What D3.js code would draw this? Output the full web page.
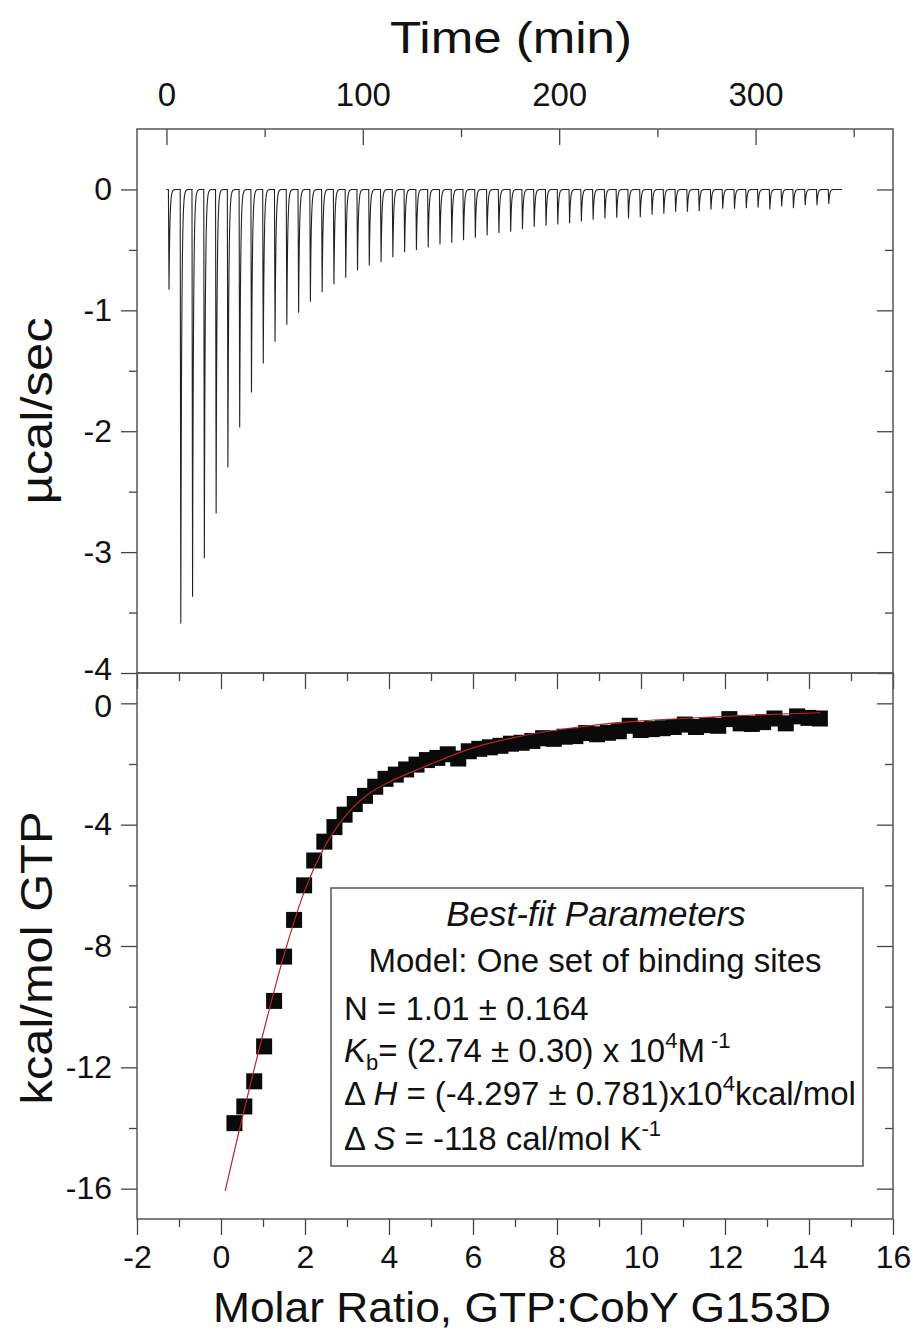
<!DOCTYPE html>
<html lang="en">
<head>
<meta charset="utf-8">
<title>ITC - GTP:CobY G153D</title>
<script src="https://d3js.org/d3.v7.min.js"></script>
<style>
  body { margin: 0; background: #fff; }
  svg text { font-family: "Liberation Sans", Arial, sans-serif; fill: #111; }
</style>
</head>
<body>
<script>
// raw thermogram: injection times (min) and peak minima (ucal/sec)
var injTimes = [1, 7, 13, 19, 25, 31, 37, 43, 49, 55, 61, 67, 73, 79, 85, 91, 97, 103, 109, 115,
  121, 127, 133, 139, 145, 151, 157, 163, 169, 175, 181, 187, 193, 199, 205, 211, 217, 223, 229,
  235, 241, 247, 253, 259, 265, 271, 277, 283, 289, 295, 301, 307, 313, 319, 325, 331, 337];
var peakDepths = [-0.83, -3.59, -3.37, -3.05, -2.68, -2.30, -1.97, -1.68, -1.44, -1.26, -1.12,
  -1.02, -0.93, -0.85, -0.785, -0.73, -0.67, -0.63, -0.60, -0.56, -0.52, -0.50, -0.48, -0.455,
  -0.44, -0.42, -0.40, -0.38, -0.36, -0.35, -0.33, -0.31, -0.30, -0.29, -0.28, -0.265, -0.25,
  -0.24, -0.235, -0.24, -0.23, -0.21, -0.20, -0.185, -0.185, -0.18, -0.165, -0.16, -0.16,
  -0.155, -0.15, -0.165, -0.14, -0.155, -0.13, -0.13, -0.12];
var traceEnd = 344;

// integrated heats: molar ratio and kcal/mol
var molRatio = [0.32, 0.555, 0.791, 1.027, 1.264, 1.502, 1.740, 1.979, 2.219, 2.460, 2.701,
  2.943, 3.185, 3.428, 3.672, 3.917, 4.162, 4.408, 4.655, 4.902, 5.150, 5.399, 5.649, 5.899,
  6.149, 6.401, 6.653, 6.905, 7.159, 7.413, 7.668, 7.923, 8.180, 8.437, 8.694, 8.953, 9.212,
  9.471, 9.732, 9.993, 10.255, 10.517, 10.780, 11.044, 11.308, 11.573, 11.839, 12.105, 12.372,
  12.640, 12.908, 13.177, 13.447, 13.717, 13.987, 14.259];
var heats = [-13.84, -13.29, -12.46, -11.31, -9.81, -8.35, -7.14, -6.0, -5.18, -4.56,
  -4.08, -3.67, -3.32, -3.05, -2.75, -2.49, -2.35, -2.18, -2.02, -1.87,
  -1.80, -1.68, -1.82, -1.58, -1.50, -1.45, -1.40, -1.33, -1.30, -1.24,
  -1.15, -1.17, -1.10, -1.08, -0.98, -1.02, -0.97, -0.92, -0.74, -0.88,
  -0.85, -0.82, -0.78, -0.70, -0.78, -0.72, -0.74, -0.52, -0.66, -0.68,
  -0.62, -0.50, -0.66, -0.43, -0.48, -0.50];

// fitted curve
var fitX = [0.1, 0.5, 1.0, 1.5, 2.0, 2.5, 3.0, 3.5, 4.0, 5.0, 6.0, 7.0, 8.0, 9.0, 10.0,
  11.0, 12.0, 13.0, 14.27];
var fitY = [-16.07, -13.7, -10.9, -8.3, -6.15, -4.65, -3.65, -3.0, -2.6, -2.0, -1.47, -1.12,
  -0.88, -0.70, -0.58, -0.50, -0.43, -0.37, -0.31];

// tick values
var timeMajor = [0, 100, 200, 300], timeMinor = [50, 150, 250, 350];
var rateMajor = [0, -1, -2, -3, -4], rateMinor = [-0.5, -1.5, -2.5, -3.5];
var heatMajor = [0, -4, -8, -12, -16], heatMinor = [-2, -6, -10, -14];
var molMajor = [-2, 0, 2, 4, 6, 8, 10, 12, 14, 16], molMinor = [-1, 1, 3, 5, 7, 9, 11, 13, 15];

var width = 913, height = 1334;
var L = 137, R = 893, T = 129, M = 673, B = 1219;

var svg = d3.select("body").append("svg")
  .attr("width", width)
  .attr("height", height);

svg.append("rect").attr("width", width).attr("height", height).attr("fill", "#fff");

var xTime = d3.scaleLinear().domain([-15, 370]).range([L, R]);
var yRate = d3.scaleLinear().domain([-4, 0.5]).range([M, T]);
var xMol = d3.scaleLinear().domain([-2, 16]).range([L, R]);
var yHeat = d3.scaleLinear().domain([-17, 1]).range([B, M]);

function drawAxis(axis, tx, ty, labels) {
  var g = svg.append("g")
    .attr("transform", "translate(" + tx + "," + ty + ")")
    .call(axis);
  g.select(".domain").remove();
  g.selectAll("line").attr("stroke", "#444").attr("stroke-width", 1.3);
  g.attr("font-family", null).attr("font-size", null);
  g.selectAll("text").attr("font-size", 32).attr("fill", "#111");
  if (!labels) g.selectAll("text").remove();
  return g;
}
var fmt = function(d) { return String(d); };

// top panel axes
drawAxis(d3.axisBottom(xTime).tickValues(timeMajor).tickSize(16), 0, T, false);
drawAxis(d3.axisBottom(xTime).tickValues(timeMinor).tickSize(8), 0, T, false);
drawAxis(d3.axisTop(xTime).tickValues(timeMajor).tickSize(0).tickPadding(23).tickFormat(fmt), 0, T, true)
  .selectAll("text").attr("font-size", 33);
var rateAxis = drawAxis(d3.axisLeft(yRate).tickValues(rateMajor).tickSize(16).tickPadding(9).tickFormat(fmt), L, 0, true);
drawAxis(d3.axisLeft(yRate).tickValues(rateMinor).tickSize(8), L, 0, false);
drawAxis(d3.axisLeft(yRate).tickValues(rateMajor).tickSize(16), R, 0, false);
drawAxis(d3.axisLeft(yRate).tickValues(rateMinor).tickSize(8), R, 0, false);

// bottom panel axes
drawAxis(d3.axisBottom(xMol).tickValues(molMajor).tickSize(16), 0, M, false);
drawAxis(d3.axisBottom(xMol).tickValues(molMinor).tickSize(8), 0, M, false);
drawAxis(d3.axisBottom(xMol).tickValues(molMajor).tickSize(16).tickPadding(10).tickFormat(fmt), 0, B, true);
drawAxis(d3.axisBottom(xMol).tickValues(molMinor).tickSize(8), 0, B, false);
var heatAxis = drawAxis(d3.axisLeft(yHeat).tickValues(heatMajor).tickSize(16).tickPadding(9).tickFormat(fmt), L, 0, true);
drawAxis(d3.axisLeft(yHeat).tickValues(heatMinor).tickSize(8), L, 0, false);
drawAxis(d3.axisLeft(yHeat).tickValues(heatMajor).tickSize(16), R, 0, false);
drawAxis(d3.axisLeft(yHeat).tickValues(heatMinor).tickSize(8), R, 0, false);

// the "-4" and "0" labels meet at the panel join: ease them apart a little
rateAxis.selectAll("text").filter(function(d) { return d === -4; }).attr("dy", "0.2em");
heatAxis.selectAll("text").filter(function(d) { return d === 0; }).attr("dy", "0.42em");

// thermogram trace: each injection is a sharp drop to its minimum and a fast return
var trace = [];
for (var k = 0; k <= traceEnd * 20; k++) {
  var t = k / 20, v = 0;
  injTimes.forEach(function(t0, i) {
    var dt = t - t0;
    if (dt >= 0 && dt < 5) {
      v += peakDepths[i] * (dt <= 0.3 ? dt / 0.3 : Math.exp(-(dt - 0.3) / 0.45));
    }
  });
  trace.push([t, v]);
}
svg.append("path")
  .datum(trace)
  .attr("fill", "none")
  .attr("stroke", "#222")
  .attr("stroke-width", 1.1)
  .attr("d", d3.line().x(function(d) { return xTime(d[0]); }).y(function(d) { return yRate(d[1]); }));

// integrated heats
var pts = molRatio.map(function(x, i) { return [x, heats[i]]; });
svg.append("g").selectAll("rect")
  .data(pts)
  .enter().append("rect")
  .attr("x", function(d) { return xMol(d[0]) - 8; })
  .attr("y", function(d) { return yHeat(d[1]) - 8; })
  .attr("width", 16)
  .attr("height", 16)
  .attr("fill", "#0a0a0a");

var fit = fitX.map(function(x, i) { return [x, fitY[i]]; });
svg.append("path")
  .datum(fit)
  .attr("fill", "none")
  .attr("stroke", "#b3262a")
  .attr("stroke-width", 1.2)
  .attr("d", d3.line().curve(d3.curveCatmullRom.alpha(0.5))
    .x(function(d) { return xMol(d[0]); })
    .y(function(d) { return yHeat(d[1]); }));

// frames
svg.append("rect").attr("x", L).attr("y", T).attr("width", R - L).attr("height", M - T)
  .attr("fill", "none").attr("stroke", "#555").attr("stroke-width", 1.5);
svg.append("rect").attr("x", L).attr("y", M).attr("width", R - L).attr("height", B - M)
  .attr("fill", "none").attr("stroke", "#555").attr("stroke-width", 1.5);

// axis titles
svg.append("text").attr("x", 511).attr("y", 53).attr("text-anchor", "middle")
  .attr("font-size", 44).attr("textLength", 242).attr("lengthAdjust", "spacingAndGlyphs")
  .text("Time (min)");
svg.append("text").attr("transform", "translate(52,411) rotate(-90)").attr("text-anchor", "middle")
  .attr("font-size", 44).attr("textLength", 187).attr("lengthAdjust", "spacingAndGlyphs")
  .text("\u00b5cal/sec");
svg.append("text").attr("transform", "translate(52,958) rotate(-90)").attr("text-anchor", "middle")
  .attr("font-size", 44).attr("textLength", 293).attr("lengthAdjust", "spacingAndGlyphs")
  .text("kcal/mol GTP");
svg.append("text").attr("x", 522).attr("y", 1322).attr("text-anchor", "middle")
  .attr("font-size", 42).attr("textLength", 618).attr("lengthAdjust", "spacingAndGlyphs")
  .text("Molar Ratio, GTP:CobY G153D");

// parameter box
svg.append("rect").attr("x", 331).attr("y", 888).attr("width", 532).attr("height", 278)
  .attr("fill", "#fff").attr("stroke", "#555").attr("stroke-width", 1.5);

function richText(x, y, anchor, size, parts) {
  var el = svg.append("text").attr("x", x).attr("y", y).attr("text-anchor", anchor)
    .attr("font-size", size);
  parts.forEach(function(p) {
    var ts = el.append("tspan").text(p.t);
    if (p.it) ts.attr("font-style", "italic");
    if (p.fs) ts.attr("font-size", p.fs);
    if (p.dy) ts.attr("dy", p.dy);
  });
  return el;
}
richText(596, 926, "middle", 35, [{t: "Best-fit Parameters", it: true}]);
richText(595, 972, "middle", 33, [{t: "Model: One set of binding sites"}]);
richText(344, 1020, "start", 33, [{t: "N = 1.01 \u00b1 0.164"}]);
richText(344, 1062, "start", 33, [
  {t: "K", it: true}, {t: "b", fs: 22, dy: 8}, {t: "= (2.74 \u00b1 0.30) x 10", dy: -8},
  {t: "4", fs: 22, dy: -14}, {t: "M", dy: 14}, {t: " -1", fs: 22, dy: -14}]);
richText(344, 1105, "start", 33, [
  {t: "\u0394 "}, {t: "H", it: true}, {t: " = (-4.297 \u00b1 0.781)x10"},
  {t: "4", fs: 22, dy: -14}, {t: "kcal/mol", dy: 14}]);
richText(344, 1150, "start", 33, [
  {t: "\u0394 "}, {t: "S", it: true}, {t: " = -118 cal/mol K"}, {t: "-1", fs: 22, dy: -14}]);
</script>
</body>
</html>
